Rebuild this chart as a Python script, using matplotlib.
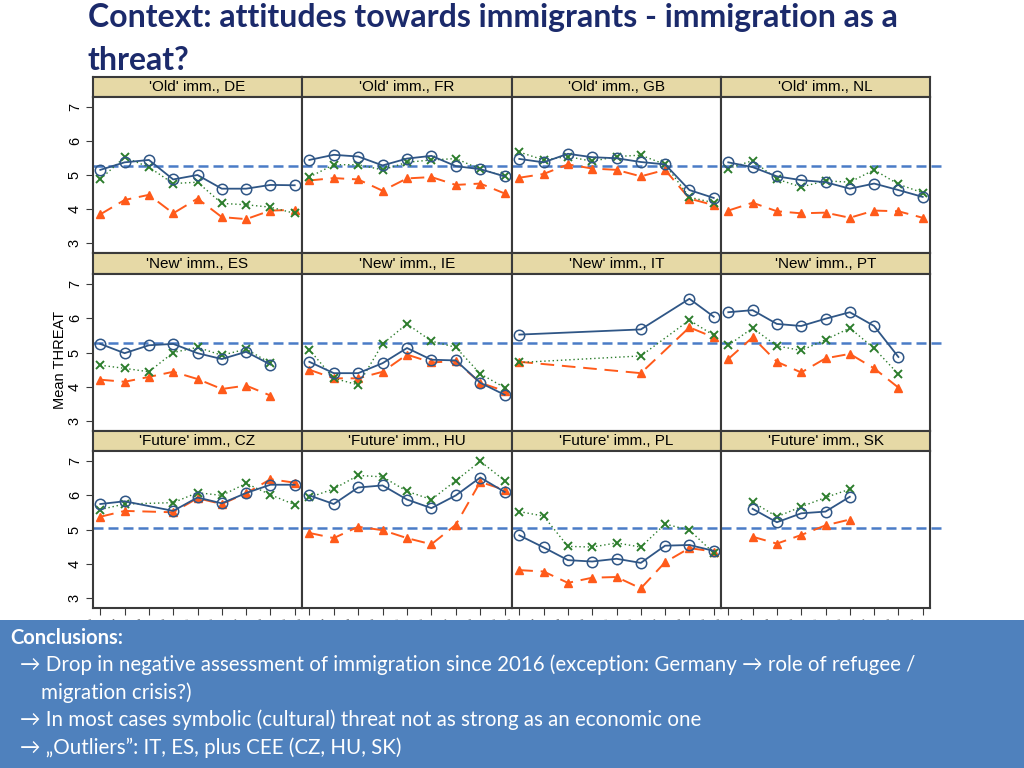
import numpy as np
import matplotlib
matplotlib.use("Agg")
import matplotlib.pyplot as plt

nan = np.nan

years = [2002, 2004, 2006, 2008, 2010, 2012, 2014, 2016, 2018]

panel_titles = [
    "'Old' imm., DE", "'Old' imm., FR", "'Old' imm., GB", "'Old' imm., NL",
    "'New' imm., ES", "'New' imm., IE", "'New' imm., IT", "'New' imm., PT",
    "'Future' imm., CZ", "'Future' imm., HU", "'Future' imm., PL", "'Future' imm., SK",
]

# circles, solid line
circle_vals = [
    [5.15, 5.37, 5.44, 4.87, 5.00, 4.60, 4.60, 4.71, 4.70],
    [5.44, 5.59, 5.54, 5.28, 5.48, 5.56, 5.26, 5.17, 4.96],
    [5.47, 5.37, 5.62, 5.52, 5.49, 5.38, 5.31, 4.56, 4.33],
    [5.37, 5.23, 4.96, 4.85, 4.79, 4.60, 4.75, 4.56, 4.36],
    [5.25, 4.98, 5.21, 5.25, 4.98, 4.81, 5.02, 4.65, nan],
    [4.73, 4.40, 4.40, 4.69, 5.13, 4.79, 4.77, 4.12, 3.77],
    [5.52, nan, nan, nan, nan, 5.67, nan, 6.56, 6.04],
    [6.17, 6.23, 5.83, 5.77, 5.98, 6.17, 5.77, 4.87, nan],
    [5.74, 5.82, nan, 5.54, 5.93, 5.76, 6.06, 6.30, 6.30],
    [5.99, 5.74, 6.22, 6.28, 5.87, 5.62, 5.99, 6.51, 6.09],
    [4.83, 4.48, 4.11, 4.07, 4.15, 4.03, 4.53, 4.55, 4.38],
    [nan, 5.60, 5.21, 5.47, 5.52, 5.95, nan, nan, nan],
]

# crosses, dotted line
cross_vals = [
    [4.88, 5.52, 5.23, 4.75, 4.79, 4.17, 4.13, 4.06, 3.88],
    [4.94, 5.30, 5.30, 5.15, 5.37, 5.44, 5.48, 5.17, 4.96],
    [5.67, 5.44, 5.54, 5.40, 5.54, 5.58, 5.31, 4.35, 4.19],
    [5.19, 5.42, 4.88, 4.65, 4.83, 4.79, 5.15, 4.73, 4.48],
    [4.63, 4.54, 4.44, 5.00, 5.15, 4.92, 5.10, 4.69, nan],
    [5.08, 4.25, 4.06, 5.25, 5.83, 5.33, 5.15, 4.38, 3.98],
    [4.71, nan, nan, nan, nan, 4.90, nan, 5.94, 5.50],
    [5.21, 5.71, 5.19, 5.06, 5.37, 5.71, 5.12, 4.37, nan],
    [5.58, 5.74, nan, 5.78, 6.07, 5.99, 6.34, 6.01, 5.72],
    [5.93, 6.18, 6.57, 6.53, 6.11, 5.87, 6.42, 6.98, 6.42],
    [5.52, 5.39, 4.51, 4.49, 4.61, 4.49, 5.16, 4.98, 4.32],
    [nan, 5.80, 5.37, 5.66, 5.93, 6.17, nan, nan, nan],
]

# triangles, dashed line
triangle_vals = [
    [3.85, 4.27, 4.42, 3.88, 4.31, 3.77, 3.71, 3.96, 3.98],
    [4.84, 4.91, 4.87, 4.54, 4.90, 4.94, 4.71, 4.75, 4.46],
    [4.92, 5.03, 5.31, 5.19, 5.15, 4.96, 5.15, 4.31, 4.12],
    [3.96, 4.19, 3.94, 3.88, 3.90, 3.75, 3.96, 3.94, 3.75],
    [4.21, 4.15, 4.29, 4.44, 4.23, 3.94, 4.04, 3.75, nan],
    [4.50, 4.25, 4.25, 4.44, 4.94, 4.71, 4.75, 4.12, 3.88],
    [4.73, nan, nan, nan, nan, 4.40, nan, 5.73, 5.44],
    [4.81, 5.44, 4.73, 4.42, 4.83, 4.96, 4.54, 3.98, nan],
    [5.37, 5.54, nan, 5.50, 5.91, 5.74, 6.05, 6.46, 6.36],
    [4.90, 4.75, 5.08, 4.98, 4.75, 4.57, 5.14, 6.38, 6.15],
    [3.82, 3.78, 3.45, 3.60, 3.62, 3.29, 4.05, 4.46, 4.36],
    [nan, 4.79, 4.59, 4.84, 5.12, 5.29, nan, nan, nan],
]

# group mean per row (dashed reference line)
ref_levels = [5.27, 5.27, 5.03]

y_ticks = [3, 4, 5, 6, 7]

conclusion_lines = [
    "\u2192 Drop in negative assessment of immigration since 2016 (exception: Germany \u2192 role of refugee /",
    "    migration crisis?)",
    "\u2192 In most cases symbolic (cultural) threat not as strong as an economic one",
    "\u2192 \u201eOutliers\u201d: IT, ES, plus CEE (CZ, HU, SK)",
]

W, H = 1024, 768
fig = plt.figure(figsize=(W / 100, H / 100), dpi=100)
fig.patch.set_facecolor("white")


def px_axes(x0, y0, x1, y1, **kw):
    return fig.add_axes([x0 / W, 1 - y1 / H, (x1 - x0) / W, (y1 - y0) / H], **kw)


col_edges = [93, 302, 512, 721, 930]
row_bounds = [(77, 97, 253), (253, 274, 431), (431, 451, 608)]

frame_col = "#3a3a3a"
blue = "#2f5686"
green = "#2c7d2c"
orange = "#ff5a1a"
ref_col = "#4a7cc7"
strip_col = "#e6d9a6"

x = np.array(years)
for i, title in enumerate(panel_titles):
    r, c = divmod(i, 4)
    htop, ptop, pbot = row_bounds[r]
    x0, x1 = col_edges[c], col_edges[c + 1]

    hax = px_axes(x0, htop, x1, ptop)
    hax.set_facecolor(strip_col)
    hax.set_xticks([])
    hax.set_yticks([])
    for s in hax.spines.values():
        s.set_color(frame_col)
        s.set_linewidth(1.5)
    hax.text(0.5, 0.48, title, ha="center", va="center", fontsize=11,
             family="Liberation Sans", transform=hax.transAxes)

    ax = px_axes(x0, ptop, x1, pbot)
    ax.set_xlim(2001.4, 2018.6)
    ax.set_ylim(2.72, 7.28)
    for s in ax.spines.values():
        s.set_color(frame_col)
        s.set_linewidth(1.5)

    ax.axhline(ref_levels[r], xmin=0, xmax=1.07 if c == 3 else 1,
               color=ref_col, lw=1.8, ls=(0, (4, 2)), clip_on=False, zorder=1)

    def draw(vals, **kw):
        v = np.array(vals, dtype=float)
        m = ~np.isnan(v)
        ax.plot(x[m], v[m], **kw)

    draw(triangle_vals[i], color=orange, lw=1.4, ls=(0, (7, 4)), marker="^",
         ms=6, mfc=orange, mec=orange, zorder=3)
    draw(cross_vals[i], color=green, lw=1.0, ls=(0, (1, 2)), marker="x",
         ms=6, mew=1.4, mec=green, zorder=4)
    draw(circle_vals[i], color=blue, lw=1.3, marker="o", ms=7.5, mfc="none",
         mec=blue, mew=1.1, zorder=5)

    ax.set_yticks(y_ticks)
    ax.set_xticks(years)
    if c == 0:
        ax.set_yticklabels([str(t) for t in y_ticks], rotation=90, va="center",
                           fontsize=10.5, family="Liberation Sans")
        ax.tick_params(axis="y", length=5, width=0.8, color=frame_col, pad=3)
    else:
        ax.tick_params(axis="y", left=False, labelleft=False)
    if r == 2:
        ax.set_xticklabels([str(y) for y in years], rotation=45, ha="right",
                           fontsize=10, family="Liberation Sans")
        ax.tick_params(axis="x", length=5, width=0.8, color=frame_col, pad=1)
    else:
        ax.tick_params(axis="x", bottom=False, labelbottom=False)

fig.text(60 / W, 1 - 360 / H, "Mean THREAT", rotation=90, ha="center",
         va="center", fontsize=10.5, family="Liberation Sans")

# slide title
fig.text(88 / W, 1 - 17 / H, "Context: attitudes towards immigrants - immigration as a",
         fontsize=23, fontweight="bold", color="#1b2a6b", family="Lato",
         ha="left", va="center")
fig.text(88 / W, 1 - 60 / H, "threat?", fontsize=23, fontweight="bold",
         color="#1b2a6b", family="Lato", ha="left", va="center")

# conclusions box
box = px_axes(0, 620, W, H)
box.set_facecolor("#4f81bd")
box.set_xticks([])
box.set_yticks([])
for s in box.spines.values():
    s.set_visible(False)
box.set_zorder(10)
fig.text(10 / W, 1 - 638 / H, "Conclusions:", fontsize=14.5, fontweight="bold",
         color="white", family=["Lato", "DejaVu Sans"], va="center", zorder=11)
for k, line in enumerate(conclusion_lines):
    fig.text(20 / W, 1 - (665 + 27.5 * k) / H, line, fontsize=14.8, color="white",
             family=["Lato", "DejaVu Sans"], va="center", zorder=11)

fig.savefig("out.png", dpi=100)
